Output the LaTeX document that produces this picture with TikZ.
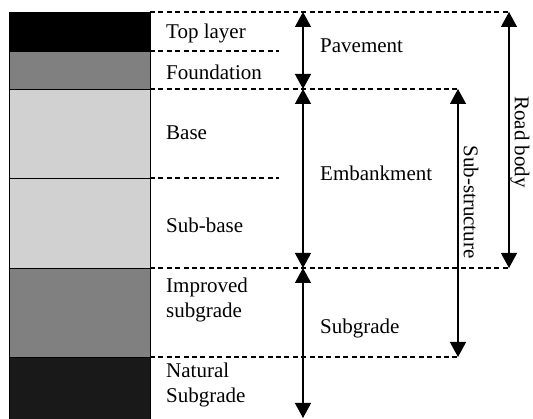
\documentclass[tikz,border=0pt]{standalone}
\usepackage{fontspec}
\setmainfont{Liberation Serif}
\usetikzlibrary{arrows.meta}
\begin{document}
\begin{tikzpicture}[x=1pt,y=-1pt,
  layer/.style={draw=black, line width=0.9pt, minimum width=141pt,
    anchor=north west, inner sep=0pt, outer sep=0pt},
  lbl/.style={anchor=west, inner sep=0pt, align=left,
    font=\fontsize{21}{25.5}\selectfont},
  vlbl/.style={inner sep=0pt, rotate=-90, font=\fontsize{21}{25.5}\selectfont},
  guide/.style={line width=1.1pt, dash pattern=on 5pt off 3.4pt},
  dim/.style={line width=1.3pt,
    {Triangle[length=15pt,width=16pt]}-{Triangle[length=15pt,width=16pt]}}]
\useasboundingbox (0,0) rectangle (533,419);

% layered column
\node[layer, fill=black,          minimum height=39pt] (toplayer) at (9,12)  {};
\node[layer, fill=black!50,       minimum height=38pt] (found)    at (9,51)  {};
\node[layer, fill=black!18,       minimum height=89pt] (base)     at (9,89)  {};
\node[layer, fill=black!18,       minimum height=90pt] (subbase)  at (9,178) {};
\node[layer, fill=black!50,       minimum height=89pt] (improved) at (9,268) {};
\node[layer, fill=black!90,       minimum height=62pt] (natural)  at (9,357) {};

% guide line ends
\coordinate (g0) at (509,12);
\coordinate (g1) at (279,51);
\coordinate (g2) at (458,89);
\coordinate (g3) at (279,178);
\coordinate (g4) at (509,268);
\coordinate (g5) at (458,357);

\draw[guide] (toplayer.north east) -- (g0);
\draw[guide] (found.north east)    -- (g1);
\draw[guide] (base.north east)     -- (g2);
\draw[guide] (subbase.north east)  -- (g3);
\draw[guide] (improved.north east) -- (g4);
\draw[guide] (natural.north east)  -- (g5);

% dimension arrow ends
\coordinate (p0) at (303,12);
\coordinate (p1) at (303,89);
\coordinate (p2) at (303,268);
\coordinate (p3) at (303,418);
\coordinate (s0) at (458,89);
\coordinate (s1) at (458,357);
\coordinate (r0) at (509,12);
\coordinate (r1) at (509,268);

\draw[dim] (p0) -- (p1);
\draw[dim] (p1) -- (p2);
\draw[dim] (p2) -- (p3);
\draw[dim] (s0) -- (s1);
\draw[dim] (r0) -- (r1);

% layer names
\node[lbl] (ltop)  at (166,33)  {Top layer};
\node[lbl] (lfnd)  at (166,72)  {Foundation};
\node[lbl] (lbase) at (166,133) {Base};
\node[lbl] (lsub)  at (166,225) {Sub-base};
\node[lbl] (limp)  at (166,300) {Improved\\subgrade};
\node[lbl] (lnat)  at (166,385) {Natural\\Subgrade};

% group names
\node[lbl] (lpav) at (320,46)  {Pavement};
\node[lbl] (lemb) at (320,173) {Embankment};
\node[lbl] (lsg)  at (320,328) {Subgrade};
\node[vlbl] (lss) at (471,202) {Sub-structure};
\node[vlbl] (lrb) at (520,142) {Road body};
\end{tikzpicture}
\end{document}
